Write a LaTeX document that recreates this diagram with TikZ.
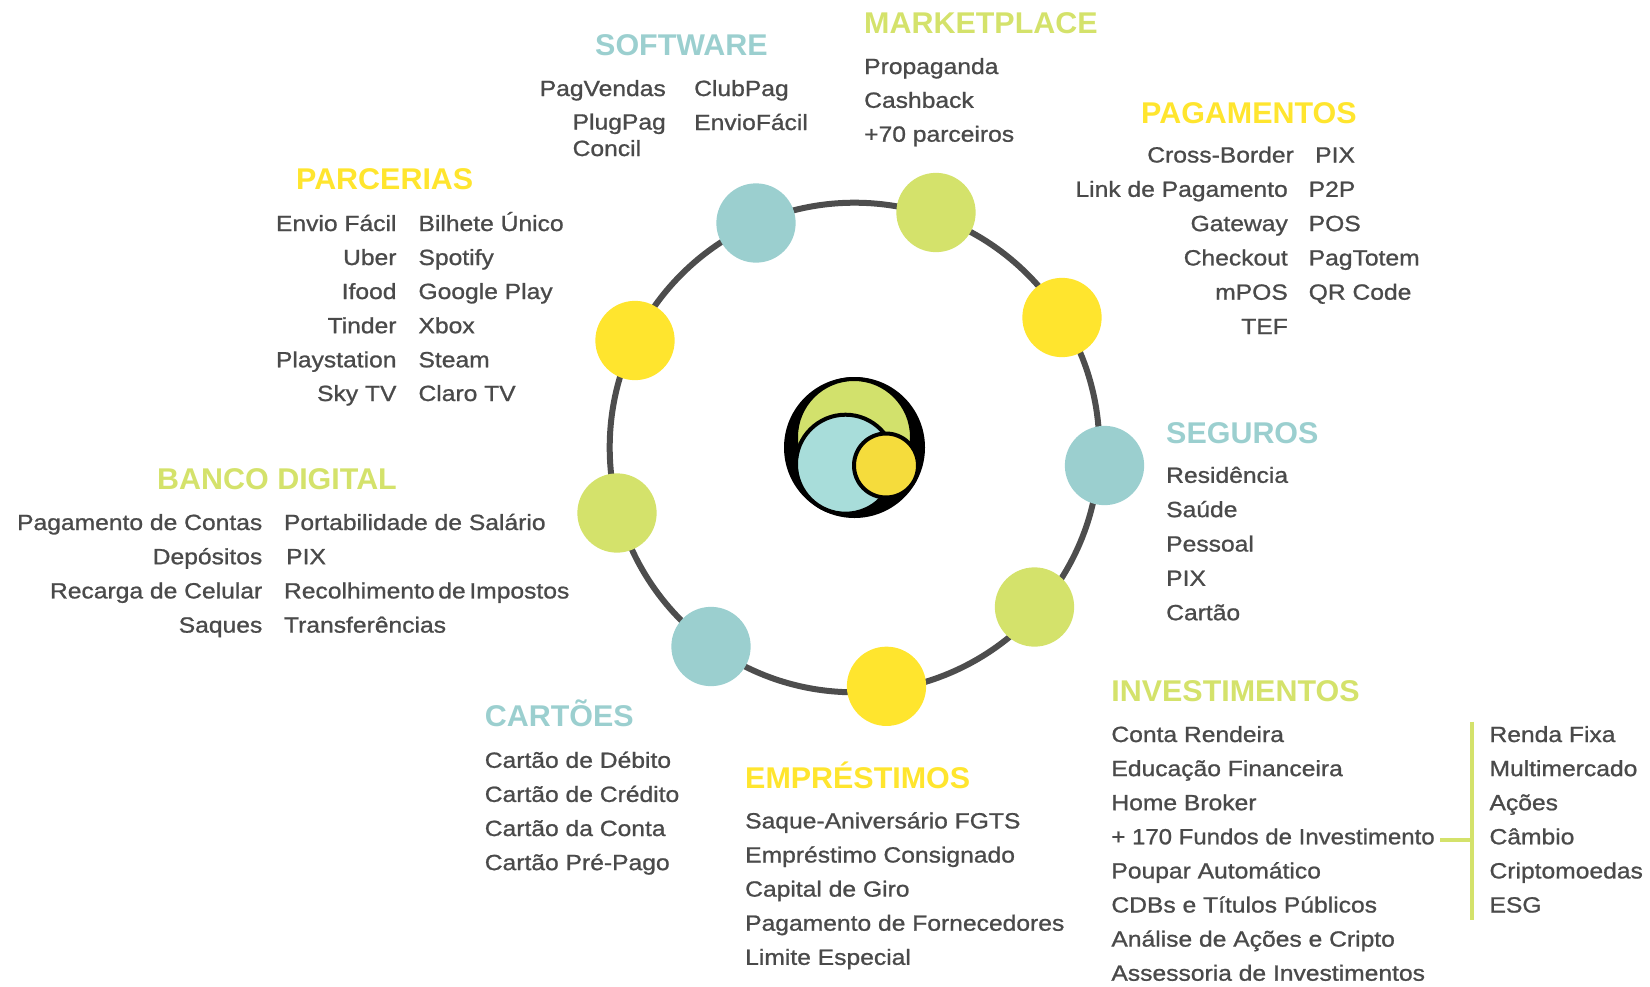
\documentclass[tikz,border=0pt]{standalone}
\usepackage{fontspec}
\setmainfont{Liberation Sans}
\newfontfamily\itemfamily[FakeStretch=1.12,FakeBold=1.0]{Liberation Sans}
\newfontfamily\itemnarrow[FakeStretch=1.09,FakeBold=1.0]{Liberation Sans}
\newfontfamily\headfamily[FakeStretch=1.015]{Liberation Sans}
\definecolor{cteal}{HTML}{9BCFCF}
\definecolor{cgreen}{HTML}{D4E26B}
\definecolor{cyellow}{HTML}{FFE52E}
\definecolor{lteal}{HTML}{A8DDDA}
\definecolor{lgreen}{HTML}{D2E16C}
\definecolor{lyellow}{HTML}{F5DC3C}
\definecolor{txtgray}{HTML}{4A4A4A}
\definecolor{ringgray}{HTML}{4D4D4D}
\tikzset{
  head/.style={font=\headfamily\bfseries\fontsize{30}{34}\selectfont, inner sep=0pt, anchor=base west},
  itm/.style={font=\itemfamily\fontsize{22}{26}\selectfont, text=txtgray, inner sep=0pt},
  itl/.style={itm, anchor=base west},
  itr/.style={itm, anchor=base east},
  dot/.style={circle, inner sep=0pt, minimum size=79.3pt},
  bracket/.style={draw=cgreen, line width=4.5pt},
}
\begin{document}
\begin{tikzpicture}[x=1pt,y=-1pt]
\useasboundingbox (0,0) rectangle (1650,986);
% ring
\draw[ringgray, line width=6pt] (854.5,447.5) circle[radius=244.8];
% dots
\node[dot, fill=cteal]   (d1) at (756,223) {};
\node[dot, fill=cgreen]  (d2) at (936,212.5) {};
\node[dot, fill=cyellow] (d3) at (1062,317.5) {};
\node[dot, fill=cteal]   (d4) at (1104.5,465.5) {};
\node[dot, fill=cgreen]  (d5) at (1034.5,607) {};
\node[dot, fill=cyellow] (d6) at (886.5,686.3) {};
\node[dot, fill=cteal]   (d7) at (711,646.5) {};
\node[dot, fill=cgreen]  (d8) at (617,513) {};
\node[dot, fill=cyellow] (d9) at (635,340.5) {};
% logo
\fill[black] (854.5,447.5) circle[radius=70.5];
\draw[fill=lgreen, line width=4pt] (854,437) circle[radius=58];
\draw[fill=lteal, line width=4pt] (845.5,464.2) circle[radius=49.5];
\draw[fill=lyellow, line width=4pt] (886,465.5) circle[radius=32];
% SOFTWARE
\node[head, text=cteal] (hsw) at (595,55) {SOFTWARE};
\node[itr] (sw1) at (666,96) {PagVendas};
\node[itl] (sw2) at (694,96) {ClubPag};
\node[itr] (sw3) at (666,129.5) {PlugPag};
\node[itl] (sw4) at ([yshift=-26.5pt]sw3.base west) {Concil};
\node[itl] (sw5) at (694,130) {EnvioFácil};
% MARKETPLACE
\node[head, text=cgreen] (hmk) at (864,33.5) {MARKETPLACE};
\node[itl] (mk1) at (864,74) {Propaganda};
\node[itl] (mk2) at (864,107.8) {Cashback};
\node[itl] (mk3) at (864,141.7) {+70 parceiros};
% PAGAMENTOS
\node[head, text=cyellow] (hpg) at (1141,123) {PAGAMENTOS};
\node[itr] (pg1) at (1294,162.5) {Cross-Border};
\node[itr] (pg2) at (1288,196.8) {Link de Pagamento};
\node[itr] (pg3) at (1288,231.1) {Gateway};
\node[itr] (pg4) at (1288,265.4) {Checkout};
\node[itr] (pg5) at (1288,299.7) {mPOS};
\node[itr] (pg6) at (1288,334) {TEF};
\node[itl] (pg7) at (1315,162.5) {PIX};
\node[itl] (pg8) at (1308.5,196.8) {P2P};
\node[itl] (pg9) at (1308.5,231.1) {POS};
\node[itl] (pg10) at (1308.5,265.4) {PagTotem};
\node[itl] (pg11) at (1308.5,299.7) {QR Code};
% PARCERIAS
\node[head, text=cyellow] (hpc) at (296,189.5) {PARCERIAS};
\node[itr] (pc1) at (396.7,231) {Envio Fácil};
\node[itr] (pc2) at (396.7,265) {Uber};
\node[itr] (pc3) at (396.7,299) {Ifood};
\node[itr] (pc4) at (396.7,333.2) {Tinder};
\node[itr] (pc5) at (396.7,367.3) {Playstation};
\node[itr] (pc6) at (396.7,401) {Sky TV};
\node[itl] (pc7) at (418.3,231) {Bilhete Único};
\node[itl] (pc8) at (418.3,265) {Spotify};
\node[itl] (pc9) at (418.3,299) {Google Play};
\node[itl] (pc10) at (418.3,333.2) {Xbox};
\node[itl] (pc11) at (418.3,367.3) {Steam};
\node[itl] (pc12) at (418.3,401) {Claro TV};
% BANCO DIGITAL
\node[head, text=cgreen] (hbd) at (157,489.3) {BANCO DIGITAL};
\node[itr] (bd1) at (262.5,530) {Pagamento de Contas};
\node[itr] (bd2) at (262.5,564.2) {Depósitos};
\node[itr] (bd3) at (262.5,598.4) {Recarga de Celular};
\node[itr] (bd4) at (262.5,632.6) {Saques};
\node[itl] (bd5) at (283.8,530) {Portabilidade de Salário};
\node[itl] (bd6) at (286,564.2) {PIX};
\node[itl] (bd7) at (283.8,598.4) {Recolhimento\,de\,Impostos};
\node[itl] (bd8) at (283.8,632.6) {Transferências};
% SEGUROS
\node[head, text=cteal] (hsg) at (1166,443.2) {SEGUROS};
\node[itl] (sg1) at (1166,482.8) {Residência};
\node[itl] (sg2) at (1166,517.1) {Saúde};
\node[itl] (sg3) at (1166,551.5) {Pessoal};
\node[itl] (sg4) at (1166,585.8) {PIX};
\node[itl] (sg5) at (1166,620.2) {Cartão};
% CARTOES
\node[head, text=cteal] (hct) at (484.6,726.5) {CARTÕES};
\node[itl] (ct1) at (484.6,767.8) {Cartão de Débito};
\node[itl] (ct2) at (484.6,801.9) {Cartão de Crédito};
\node[itl] (ct3) at (484.6,836) {Cartão da Conta};
\node[itl] (ct4) at (484.6,870.1) {Cartão Pré-Pago};
% EMPRESTIMOS
\node[head, text=cyellow] (hem) at (745,788.2) {EMPRÉSTIMOS};
\node[itl] (em1) at (745,828.4) {Saque-Aniversário FGTS};
\node[itl] (em2) at (745,862.5) {Empréstimo Consignado};
\node[itl] (em3) at (745,896.6) {Capital de Giro};
\node[itl] (em4) at (745,930.7) {Pagamento de Fornecedores};
\node[itl] (em5) at (745,964.8) {Limite Especial};
% INVESTIMENTOS
\node[head, text=cgreen] (hiv) at (1111.2,701.5) {INVESTIMENTOS};
\node[itl] (iv1) at (1111.2,742) {Conta Rendeira};
\node[itl] (iv2) at (1111.2,776.1) {Educação Financeira};
\node[itl] (iv3) at (1111.2,810.2) {Home Broker};
\node[itl, font=\itemnarrow\fontsize{22}{26}\selectfont] (iv4) at (1111.2,844.3) {+ 170 Fundos de Investimento};
\node[itl] (iv5) at (1111.2,878.4) {Poupar Automático};
\node[itl] (iv6) at (1111.2,912.5) {CDBs e Títulos Públicos};
\node[itl] (iv7) at (1111.2,946.6) {Análise de Ações e Cripto};
\node[itl] (iv8) at (1111.2,980.7) {Assessoria de Investimentos};
\node[itl] (ir1) at (1489.3,742) {Renda Fixa};
\node[itl] (ir2) at (1489.3,776.1) {Multimercado};
\node[itl] (ir3) at (1489.3,810.2) {Ações};
\node[itl] (ir4) at (1489.3,844.3) {Câmbio};
\node[itl] (ir5) at (1489.3,878.4) {Criptomoedas};
\node[itl] (ir6) at (1489.3,912.5) {ESG};
% bracket
\coordinate (brtop) at (1471.8,721.7);
\coordinate (brbot) at (1471.8,920);
\coordinate (brmid) at (1471.8,840);
\coordinate (brleft) at (1440.2,840);
\draw[bracket] (brtop) -- (brbot);
\draw[bracket] (brleft) -- (brmid);
\end{tikzpicture}
\end{document}
